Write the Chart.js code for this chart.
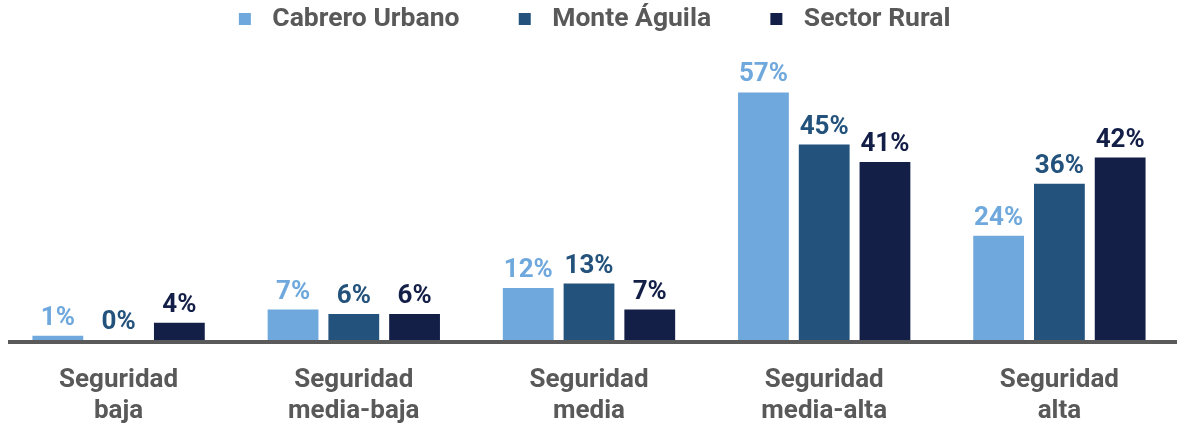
<!DOCTYPE html>
<html>
<head>
<meta charset="utf-8">
<script src="https://cdn.jsdelivr.net/npm/chart.js@4.4.1/dist/chart.umd.min.js"></script>
<style>
  html, body { margin: 0; padding: 0; background: #ffffff; overflow: hidden; }
  #wrap { width: 1177px; height: 425px; position: relative; }
</style>
</head>
<body>
<div id="wrap"><canvas id="c"></canvas></div>
<script>
const categories = [
  ["Seguridad", "baja"],
  ["Seguridad", "media-baja"],
  ["Seguridad", "media"],
  ["Seguridad", "media-alta"],
  ["Seguridad", "alta"]
];
const seriesNames = ["Cabrero Urbano", "Monte Águila", "Sector Rural"];
const cabreroUrbano = [1, 7, 12, 57, 24];
const monteAguila = [0, 6, 13, 45, 36];
const sectorRural = [4, 6, 7, 41, 42];
const colors = ["#6fa8dc", "#23527c", "#141f48"];

const FONT = "Roboto, 'DejaVu Sans', sans-serif";
const TEXT = "#595959";

function legendSwatch(color) {
  const cv = document.createElement("canvas");
  cv.width = 28; cv.height = 12;
  const cx = cv.getContext("2d");
  cx.fillStyle = color;
  cx.fillRect(7, 0, 12, 12);
  return cv;
}
const swatches = colors.map(legendSwatch);

const valueLabels = {
  id: "valueLabels",
  afterDatasetsDraw(chart) {
    const ctx = chart.ctx;
    ctx.save();
    ctx.font = "bold 26px " + FONT;
    ctx.textAlign = "center";
    ctx.textBaseline = "alphabetic";
    chart.data.datasets.forEach((ds, di) => {
      const meta = chart.getDatasetMeta(di);
      meta.data.forEach((bar, i) => {
        ctx.fillStyle = ds.backgroundColor;
        ctx.fillText(ds.data[i] + "%", bar.x, bar.y - 11);
      });
    });
    ctx.restore();
  }
};

const baseLine = {
  id: "baseLine",
  afterDatasetsDraw(chart) {
    const ctx = chart.ctx;
    const y = chart.scales.y.getPixelForValue(0);
    ctx.save();
    ctx.fillStyle = "#5a5a5a";
    ctx.fillRect(8, y, chart.width - 8, 4);
    ctx.restore();
  }
};

new Chart(document.getElementById("c"), {
  type: "bar",
  data: {
    labels: categories,
    datasets: [
      { label: seriesNames[0], data: cabreroUrbano, backgroundColor: colors[0] },
      { label: seriesNames[1], data: monteAguila, backgroundColor: colors[1] },
      { label: seriesNames[2], data: sectorRural, backgroundColor: colors[2] }
    ]
  },
  options: {
    responsive: true,
    maintainAspectRatio: false,
    animation: false,
    layout: { padding: { left: 1, right: -5, top: -47, bottom: -27 } },
    datasets: { bar: { categoryPercentage: 0.775, barPercentage: 0.836 } },
    plugins: {
      tooltip: { enabled: false },
      legend: {
        position: "top",
        labels: {
          color: TEXT,
          font: { family: FONT, size: 26.5, weight: "bold" },
          usePointStyle: true,
          boxWidth: 28,
          boxHeight: 12,
          padding: 53,
          generateLabels(chart) {
            const items = Chart.defaults.plugins.legend.labels.generateLabels(chart);
            items.forEach((it, i) => { it.pointStyle = swatches[i]; });
            return items;
          }
        }
      }
    },
    scales: {
      x: {
        grid: { display: false, drawTicks: false },
        border: { display: false },
        ticks: {
          color: TEXT,
          padding: 25,
          font: { family: FONT, size: 26, weight: "bold", lineHeight: "31px" }
        }
      },
      y: {
        display: false,
        min: 0,
        max: 68.5
      }
    }
  },
  plugins: [valueLabels, baseLine]
});
</script>
</body>
</html>
